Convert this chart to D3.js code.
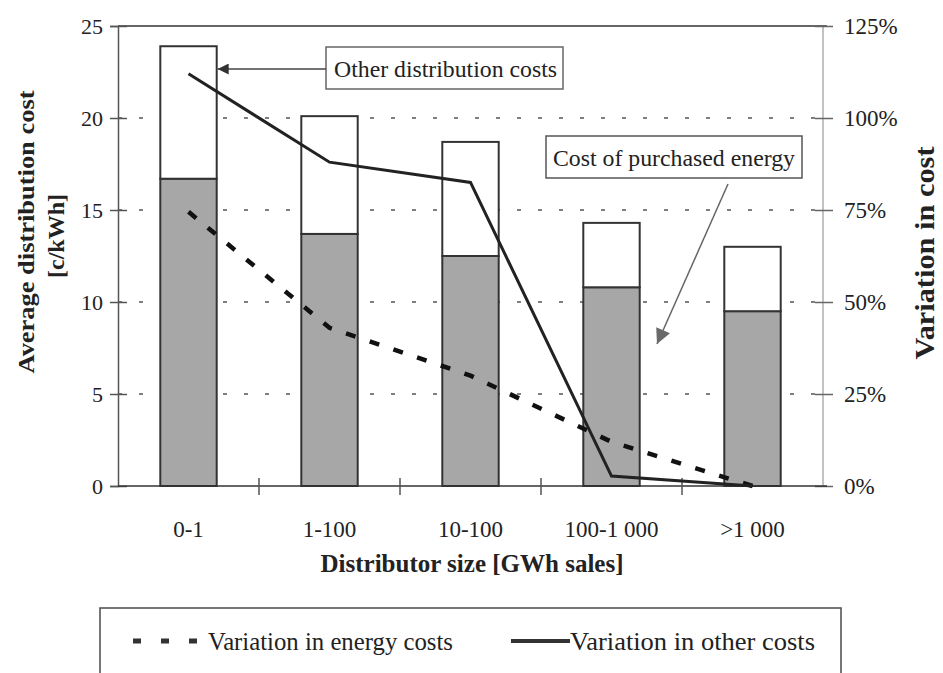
<!DOCTYPE html>
<html>
<head>
<meta charset="utf-8">
<script src="https://cdn.jsdelivr.net/npm/d3@7"></script>
<style>
  body { margin: 0; background: #fff; }
  svg { display: block; font-family: "Liberation Serif", "Times New Roman", serif; }
</style>
</head>
<body>
<div id="chart"></div>
<script>
// chart values
const categories = ["0-1", "1-100", "10-100", "100-1 000", ">1 000"];
const energyCost = [16.7, 13.7, 12.5, 10.8, 9.5];       // c/kWh, grey part
const otherCost = [7.2, 6.4, 6.2, 3.5, 3.5];            // c/kWh, white part on top
const energyVariation = [74.5, 43, 30, 12, 0];          // %
const otherVariation = [112, 88, 82.5, 2.7, 0];         // %
const leftTicks = [0, 5, 10, 15, 20, 25];
const rightTicks = [0, 25, 50, 75, 100, 125];
const gridValues = [5, 10, 15, 20];

const W = 943, H = 673;
const margin = {top: 26, right: 120, bottom: 187, left: 118};
const plotW = W - margin.left - margin.right;   // 705
const plotH = H - margin.top - margin.bottom;   // 460

const svg = d3.select("#chart").append("svg")
    .attr("width", W)
    .attr("height", H);

const defs = svg.append("defs");
defs.append("marker")
    .attr("id", "arrowDark")
    .attr("viewBox", "0 0 10 10")
    .attr("refX", 10).attr("refY", 5)
    .attr("markerWidth", 16).attr("markerHeight", 11)
    .attr("markerUnits", "userSpaceOnUse")
    .attr("orient", "auto")
    .append("path").attr("d", "M0,0L10,5L0,10Z").attr("fill", "#333");
defs.append("marker")
    .attr("id", "arrowGrey")
    .attr("viewBox", "0 0 10 10")
    .attr("refX", 10).attr("refY", 5)
    .attr("markerWidth", 22).attr("markerHeight", 15)
    .attr("markerUnits", "userSpaceOnUse")
    .attr("orient", "auto")
    .append("path").attr("d", "M0,0L10,5L0,10Z").attr("fill", "#6a6a6a");

const g = svg.append("g")
    .attr("transform", `translate(${margin.left},${margin.top})`);

const x = d3.scaleBand()
    .domain(categories)
    .range([0, plotW])
    .paddingInner(0.6)
    .paddingOuter(0.3);

const y = d3.scaleLinear().domain([0, 25]).range([plotH, 0]);
const y2 = d3.scaleLinear().domain([0, 125]).range([plotH, 0]);
const cx = d => x(d) + x.bandwidth() / 2;

// grid lines
g.append("g")
    .selectAll("line")
    .data(gridValues)
    .enter().append("line")
    .attr("x1", 0).attr("x2", plotW)
    .attr("y1", d => y(d)).attr("y2", d => y(d))
    .attr("stroke", "#555")
    .attr("stroke-width", 1.5)
    .attr("stroke-dasharray", "4,17");

// top border
g.append("line")
    .attr("x1", 0).attr("x2", plotW + 4)
    .attr("y1", 0).attr("y2", 0)
    .attr("stroke", "#333").attr("stroke-width", 1.6);

// right axis line
g.append("line")
    .attr("x1", plotW).attr("x2", plotW)
    .attr("y1", 0).attr("y2", plotH)
    .attr("stroke", "#999").attr("stroke-width", 1.2);

// stacked bars
const bars = g.append("g");
bars.selectAll(".energy")
    .data(categories)
    .enter().append("rect")
    .attr("class", "energy")
    .attr("x", d => x(d))
    .attr("width", x.bandwidth())
    .attr("y", (d, i) => y(energyCost[i]))
    .attr("height", (d, i) => y(0) - y(energyCost[i]))
    .attr("fill", "#a7a7a7")
    .attr("stroke", "#333")
    .attr("stroke-width", 2);
bars.selectAll(".other")
    .data(categories)
    .enter().append("rect")
    .attr("class", "other")
    .attr("x", d => x(d))
    .attr("width", x.bandwidth())
    .attr("y", (d, i) => y(energyCost[i] + otherCost[i]))
    .attr("height", (d, i) => y(energyCost[i]) - y(energyCost[i] + otherCost[i]))
    .attr("fill", "#fff")
    .attr("stroke", "#333")
    .attr("stroke-width", 2);

// left axis
const leftAxis = g.append("g")
    .call(d3.axisLeft(y).tickValues(leftTicks).tickSize(8).tickPadding(7));
leftAxis.select(".domain").attr("stroke", "#555").attr("stroke-width", 1.5);
leftAxis.selectAll(".tick line").attr("stroke", "#555").attr("stroke-width", 1.5)
    .attr("x2", -8).attr("x1", 9);
leftAxis.selectAll("text").attr("font-size", 22).attr("fill", "#222")
    .attr("font-family", "Liberation Serif, serif");

// right axis
const rightAxis = g.append("g")
    .attr("transform", `translate(${plotW},0)`)
    .call(d3.axisRight(y2).tickValues(rightTicks).tickFormat(d => d + "%").tickSize(10).tickPadding(11));
rightAxis.select(".domain").remove();
rightAxis.selectAll(".tick line").attr("stroke", "#666").attr("stroke-width", 1.5)
    .attr("x1", -8);
rightAxis.selectAll("text").attr("font-size", 23).attr("fill", "#222")
    .attr("font-family", "Liberation Serif, serif");

// bottom axis, ticks between categories
const bottom = g.append("g").attr("transform", `translate(0,${plotH})`);
bottom.append("line")
    .attr("x1", 0).attr("x2", plotW + 4)
    .attr("stroke", "#333").attr("stroke-width", 1.6);
bottom.selectAll(".sep")
    .data(categories.slice(1))
    .enter().append("line")
    .attr("class", "sep")
    .attr("x1", d => x(d) - x.step() * x.paddingInner() / 2)
    .attr("x2", d => x(d) - x.step() * x.paddingInner() / 2)
    .attr("y1", -8).attr("y2", 9)
    .attr("stroke", "#555").attr("stroke-width", 1.5);
bottom.selectAll(".cat")
    .data(categories)
    .enter().append("text")
    .attr("class", "cat")
    .attr("x", d => cx(d))
    .attr("y", 51)
    .attr("text-anchor", "middle")
    .attr("font-size", 23)
    .attr("fill", "#222")
    .text(d => d);

// variation lines on the right scale
const varLine = d3.line()
    .x((d, i) => cx(categories[i]))
    .y(d => y2(d));
g.append("path")
    .datum(energyVariation)
    .attr("d", varLine)
    .attr("fill", "none")
    .attr("stroke", "#111")
    .attr("stroke-width", 4.5)
    .attr("stroke-dasharray", "10,15");
g.append("path")
    .datum(otherVariation)
    .attr("d", varLine)
    .attr("fill", "none")
    .attr("stroke", "#222")
    .attr("stroke-width", 3);

// annotation: other distribution costs
svg.append("rect")
    .attr("x", 326).attr("y", 47).attr("width", 237).attr("height", 42)
    .attr("fill", "#fff").attr("stroke", "#666").attr("stroke-width", 1.5);
svg.append("text")
    .attr("x", 334).attr("y", 77)
    .attr("font-size", 24).attr("fill", "#222")
    .attr("textLength", 223).attr("lengthAdjust", "spacingAndGlyphs")
    .text("Other distribution costs");
svg.append("line")
    .attr("x1", 326).attr("y1", 69)
    .attr("x2", margin.left + x(categories[0]) + x.bandwidth() + 1).attr("y2", 69)
    .attr("stroke", "#444").attr("stroke-width", 1.5)
    .attr("marker-end", "url(#arrowDark)");

// annotation: cost of purchased energy
svg.append("rect")
    .attr("x", 546).attr("y", 136).attr("width", 256).attr("height", 42)
    .attr("fill", "#fff").attr("stroke", "#555").attr("stroke-width", 1.5);
svg.append("text")
    .attr("x", 553).attr("y", 166)
    .attr("font-size", 24).attr("fill", "#222")
    .attr("textLength", 242).attr("lengthAdjust", "spacingAndGlyphs")
    .text("Cost of purchased energy");
svg.append("line")
    .attr("x1", 728).attr("y1", 184)
    .attr("x2", 657).attr("y2", 344)
    .attr("stroke", "#666").attr("stroke-width", 1.5)
    .attr("marker-end", "url(#arrowGrey)");

// axis titles
svg.append("text")
    .attr("transform", `translate(34,232) rotate(-90)`)
    .attr("text-anchor", "middle")
    .attr("font-size", 24).attr("font-weight", "bold").attr("fill", "#222")
    .attr("textLength", 283).attr("lengthAdjust", "spacingAndGlyphs")
    .text("Average distribution cost");
svg.append("text")
    .attr("transform", `translate(64,236) rotate(-90)`)
    .attr("text-anchor", "middle")
    .attr("font-size", 24).attr("font-weight", "bold").attr("fill", "#222")
    .text("[c/kWh]");
svg.append("text")
    .attr("transform", `translate(934,253) rotate(-90)`)
    .attr("text-anchor", "middle")
    .attr("font-size", 27).attr("font-weight", "bold").attr("fill", "#222")
    .attr("textLength", 213).attr("lengthAdjust", "spacingAndGlyphs")
    .text("Variation in cost");
svg.append("text")
    .attr("x", 472).attr("y", 572)
    .attr("text-anchor", "middle")
    .attr("font-size", 25).attr("font-weight", "bold").attr("fill", "#222")
    .text("Distributor size [GWh sales]");

// legend
const legend = svg.append("g").attr("transform", "translate(100,608)");
legend.append("rect")
    .attr("x", 0).attr("y", 0).attr("width", 741).attr("height", 90)
    .attr("fill", "none").attr("stroke", "#555").attr("stroke-width", 1.6);
legend.append("line")
    .attr("x1", 33).attr("x2", 98).attr("y1", 33).attr("y2", 33)
    .attr("stroke", "#333").attr("stroke-width", 5)
    .attr("stroke-dasharray", "8,20");
legend.append("text")
    .attr("x", 108).attr("y", 42)
    .attr("font-size", 25).attr("fill", "#222")
    .attr("textLength", 245).attr("lengthAdjust", "spacingAndGlyphs")
    .text("Variation in energy costs");
legend.append("line")
    .attr("x1", 411).attr("x2", 470).attr("y1", 33).attr("y2", 33)
    .attr("stroke", "#333").attr("stroke-width", 4);
legend.append("text")
    .attr("x", 470).attr("y", 42)
    .attr("font-size", 25).attr("fill", "#222")
    .attr("textLength", 245).attr("lengthAdjust", "spacingAndGlyphs")
    .text("Variation in other costs");
</script>
</body>
</html>
